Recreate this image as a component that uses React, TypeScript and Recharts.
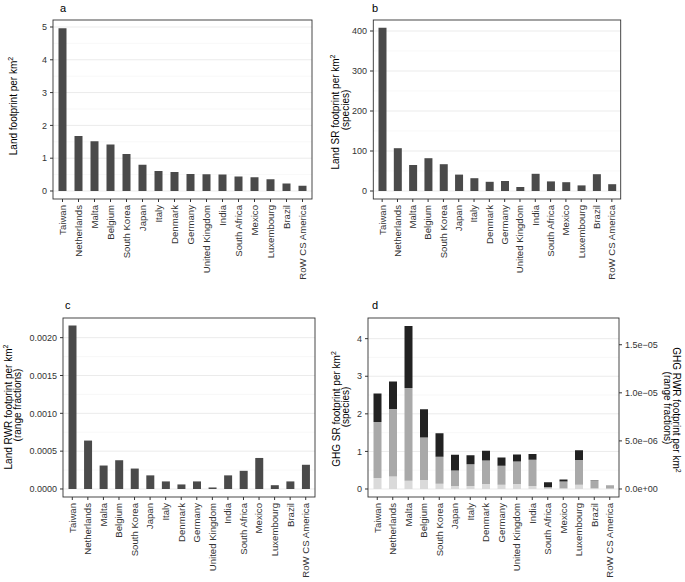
import React from "react"
import { BarChart, Bar, XAxis, YAxis, CartesianGrid } from "recharts"

const FONT = '"Liberation Sans", Arial, Helvetica, sans-serif'

const countries = [
  "Taiwan", "Netherlands", "Malta", "Belgium", "South Korea", "Japan", "Italy", "Denmark",
  "Germany", "United Kingdom", "India", "South Africa", "Mexico", "Luxembourg", "Brazil", "RoW CS America",
]

// panel a
const landFootprint = [4.96, 1.68, 1.52, 1.42, 1.13, 0.8, 0.61, 0.58, 0.52, 0.51, 0.5, 0.44, 0.42, 0.36, 0.23, 0.16]
// panel b
const landSR = [408, 107, 65, 82, 67, 41, 32, 23, 25, 10, 43, 24, 22, 14, 42, 17]
// panel c
const landRWR = [
  0.00216, 0.00064, 0.00031, 0.00038, 0.00027, 0.00018, 0.0001, 0.00006,
  0.0001, 0.00002, 0.00018, 0.00024, 0.00041, 0.00005, 0.0001, 0.00032,
]
// panel d (stacked, bottom to top)
const ghgLight = [0.29, 0.33, 0.22, 0.24, 0.14, 0.08, 0.08, 0.13, 0.11, 0.13, 0.08, 0.02, 0.02, 0.11, 0.02, 0.01]
const ghgMid = [1.49, 1.8, 2.47, 1.13, 0.72, 0.41, 0.58, 0.63, 0.51, 0.6, 0.7, 0.03, 0.18, 0.66, 0.21, 0.09]
const ghgDark = [0.76, 0.73, 1.65, 0.75, 0.62, 0.42, 0.24, 0.26, 0.22, 0.19, 0.15, 0.13, 0.05, 0.26, 0.01, 0]

const landTicks = [0, 1, 2, 3, 4, 5]
const landMinor = [0.5, 1.5, 2.5, 3.5, 4.5]
const srTicks = [0, 100, 200, 300, 400]
const srMinor = [50, 150, 250, 350]
const rwrTicks = [0, 0.0005, 0.001, 0.0015, 0.002]
const rwrMinor = [0.00025, 0.00075, 0.00125, 0.00175]
const ghgSRTicks = [0, 1, 2, 3, 4]
const ghgSRMinor = [0.5, 1.5, 2.5, 3.5]
const ghgRWRTicks = [0, 5e-6, 1e-5, 1.5e-5]
const ghgRWRTickLabels = ["0.0e+00", "5.0e\u221206", "1.0e\u221205", "1.5e\u221205"]

const rows = countries.map((country, i) => ({
  country,
  land: landFootprint[i],
  sr: landSR[i],
  rwr: landRWR[i],
  light: ghgLight[i],
  mid: ghgMid[i],
  dark: ghgDark[i],
}))

const BAR = "#4a4a4a"
const TEXT = "#333333"
const TICK = { fontSize: 9, fill: TEXT }

function XTick(props: any) {
  const { x, y, payload } = props
  return (
    <g transform={`translate(${x},${y})`}>
      <text transform="rotate(-90)" textAnchor="end" dy="0.35em" fontSize={9.6} fill={TEXT}>
        {payload.value}
      </text>
    </g>
  )
}

function Grid({ major, minor, yAxisId }: { major: number[]; minor: number[]; yAxisId?: string }) {
  return (
    <>
      <CartesianGrid yAxisId={yAxisId} vertical={false} horizontalValues={minor} stroke="#f3f3f3" strokeWidth={0.6} />
      <CartesianGrid yAxisId={yAxisId} vertical={false} horizontalValues={major} stroke="#ebebeb" strokeWidth={1} />
    </>
  )
}

function xAxis(height: number) {
  return (
    <XAxis
      dataKey="country"
      interval={0}
      height={height}
      axisLine={false}
      tickLine={{ stroke: "#333" }}
      tickSize={3}
      tickMargin={3}
      padding={{ left: 1.5, right: 1.5 }}
      tick={<XTick />}
    />
  )
}

type SimpleProps = {
  left: number
  top: number
  width: number
  height: number
  margin: { top: number; right: number; bottom: number; left: number }
  yWidth: number
  xHeight: number
  dataKey: string
  domain: [number, number]
  ticks: number[]
  minor: number[]
  fmt?: (v: number) => string
  barSize: number
}

function SimplePanel(p: SimpleProps) {
  return (
    <div style={{ position: "absolute", left: p.left, top: p.top }}>
      <BarChart width={p.width} height={p.height} data={rows} margin={p.margin}>
        <Grid major={p.ticks} minor={p.minor} />
        {xAxis(p.xHeight)}
        <YAxis
          width={p.yWidth}
          domain={p.domain}
          ticks={p.ticks}
          allowDataOverflow
          axisLine={false}
          tickLine={{ stroke: "#333" }}
          tickSize={3}
          tickMargin={3}
          tick={TICK}
          tickFormatter={p.fmt}
        />
        <Bar dataKey={p.dataKey} fill={BAR} barSize={p.barSize} isAnimationActive={false} />
      </BarChart>
    </div>
  )
}

function Sup() {
  return (
    <tspan dy="-0.45em" fontSize={7}>
      2
    </tspan>
  )
}

function Overlay() {
  const border = { fill: "none", stroke: "#333", strokeWidth: 0.9 }
  return (
    <svg
      width={685}
      height={582}
      style={{ position: "absolute", left: 0, top: 0, pointerEvents: "none", fontFamily: FONT }}
    >
      <rect x={53} y={20} width={259} height={179} {...border} />
      <rect x={373.3} y={20} width={247.4} height={179} {...border} />
      <rect x={63} y={318} width={252} height={179} {...border} />
      <rect x={368} y={318} width={251} height={179} {...border} />

      <g fontSize={11} fill="#000">
        <text x={60} y={12}>a</text>
        <text x={372} y={12}>b</text>
        <text x={65} y={309}>c</text>
        <text x={372} y={309}>d</text>
      </g>

      <g fontSize={10} fill="#000" textAnchor="middle" dominantBaseline="central">
        <text transform="translate(13,106) rotate(-90)">
          Land footprint per km<Sup />
        </text>

        <text transform="translate(335,112) rotate(-90)">
          Land SR footprint per km<Sup />
        </text>
        <text transform="translate(345,110) rotate(-90)">(species)</text>

        <text transform="translate(8.5,407) rotate(-90)">
          Land RWR footprint per km<Sup />
        </text>
        <text transform="translate(17.5,405) rotate(-90)">(range fractions)</text>

        <text transform="translate(336,409) rotate(-90)">
          GHG SR footprint per km<Sup />
        </text>
        <text transform="translate(345,407) rotate(-90)">(species)</text>

        <text transform="translate(676,410) rotate(90)">
          GHG RWR footprint per km<Sup />
        </text>
        <text transform="translate(667,408) rotate(90)">(range fractions)</text>
      </g>
    </svg>
  )
}

export default function App() {
  return (
    <div
      style={{
        position: "absolute",
        left: 0,
        top: 0,
        width: 685,
        height: 582,
        background: "#fff",
        fontFamily: FONT,
      }}
    >
      <SimplePanel
        left={0}
        top={0}
        width={342}
        height={290}
        margin={{ top: 20, right: 30, bottom: 0, left: 0 }}
        yWidth={53}
        xHeight={91}
        dataKey="land"
        domain={[-0.244, 5.213]}
        ticks={landTicks}
        minor={landMinor}
        barSize={8}
      />
      <SimplePanel
        left={342}
        top={0}
        width={343}
        height={290}
        margin={{ top: 20, right: 64, bottom: 0, left: 0 }}
        yWidth={31}
        xHeight={91}
        dataKey="sr"
        domain={[-20, 427.5]}
        ticks={srTicks}
        minor={srMinor}
        barSize={8}
      />
      <SimplePanel
        left={0}
        top={290}
        width={342}
        height={292}
        margin={{ top: 28, right: 27, bottom: 0, left: 0 }}
        yWidth={63}
        xHeight={85}
        dataKey="rwr"
        domain={[-0.000106, 0.00226]}
        ticks={rwrTicks}
        minor={rwrMinor}
        fmt={(v) => v.toFixed(4)}
        barSize={8}
      />

      <div style={{ position: "absolute", left: 342, top: 290 }}>
        <BarChart width={343} height={292} data={rows} margin={{ top: 28, right: 0, bottom: 0, left: 0 }}>
          <Grid major={ghgSRTicks} minor={ghgSRMinor} yAxisId="left" />
          {xAxis(85)}
          <YAxis
            yAxisId="left"
            width={26}
            domain={[-0.213, 4.55]}
            ticks={ghgSRTicks}
            allowDataOverflow
            axisLine={false}
            tickLine={{ stroke: "#333" }}
            tickSize={3}
            tickMargin={3}
            tick={TICK}
          />
          <YAxis
            yAxisId="right"
            orientation="right"
            width={66}
            domain={[-8.33e-7, 1.778e-5]}
            ticks={ghgRWRTicks}
            allowDataOverflow
            axisLine={false}
            tickLine={{ stroke: "#333" }}
            tickSize={3}
            tickMargin={3}
            tick={TICK}
            tickFormatter={(v) => ghgRWRTickLabels[ghgRWRTicks.indexOf(v)] ?? String(v)}
          />
          <Bar yAxisId="left" dataKey="light" stackId="g" fill="#dadada" barSize={8} isAnimationActive={false} />
          <Bar yAxisId="left" dataKey="mid" stackId="g" fill="#a9a9a9" barSize={8} isAnimationActive={false} />
          <Bar yAxisId="left" dataKey="dark" stackId="g" fill="#222222" barSize={8} isAnimationActive={false} />
        </BarChart>
      </div>

      <Overlay />
    </div>
  )
}
